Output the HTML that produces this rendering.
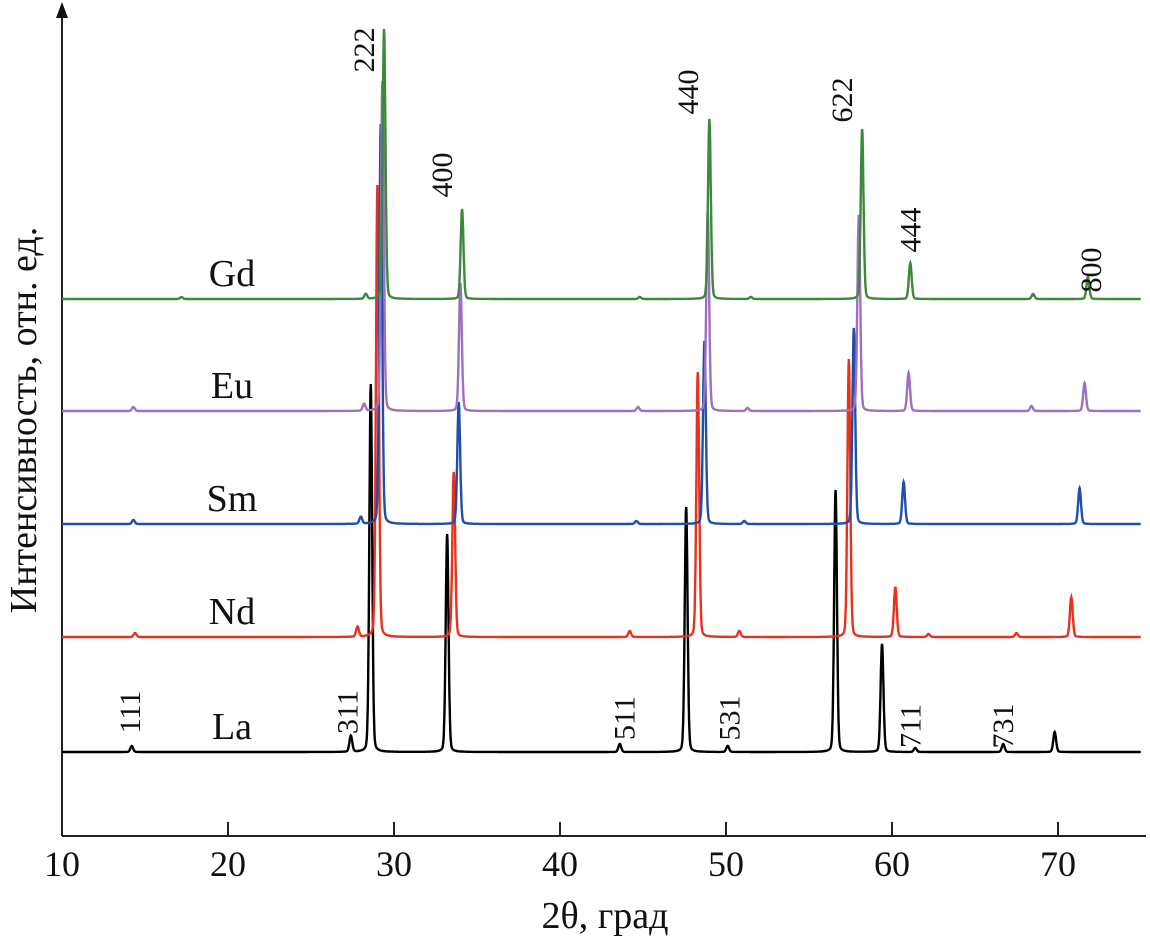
<!DOCTYPE html>
<html><head><meta charset="utf-8"><style>
body{margin:0;background:#fff}
svg text{font-family:"Liberation Serif",serif;fill:#111}
</style></head><body>
<svg id="chart" width="1150" height="946" viewBox="0 0 1150 946" xmlns="http://www.w3.org/2000/svg">
<g id="axes"></g>
<g id="series"></g>
<g id="labels"></g>
</svg>
<script>
const xTicks=[10,20,30,40,50,60,70];
const sampleNames=["La","Nd","Sm","Eu","Gd"];
const sampleColors=["#000000","#e8321e","#1f4fa8","#a070c0","#3a8a3a"];
const baselines=[752,637,524,411,299];
const laPos=[14.2,27.4,28.6,33.2,43.6,47.6,50.1,56.6,59.4,61.4,66.7,69.8];
const laInt=[6,16,368,218,8,245,6,262,108,4,8,20];
const ndPos=[14.4,27.8,29.0,33.6,44.2,48.3,50.8,57.4,60.2,62.2,67.5,70.8];
const ndInt=[4,10,452,165,6,265,6,278,50,3,4,40];
const smPos=[14.3,28.0,29.2,33.9,44.6,48.7,51.1,57.7,60.7,71.3];
const smInt=[4,7,400,122,3,183,3,196,42,36];
const euPos=[14.3,28.2,29.3,34.0,44.7,48.9,51.3,58.0,61.0,68.4,71.6];
const euInt=[4,7,330,128,4,200,3,196,38,5,28];
const gdPos=[17.2,28.3,29.4,34.1,44.8,49.0,51.5,58.2,61.1,68.5,71.8];
const gdInt=[2,5,270,90,2,180,2,170,36,5,22];
const peakPos=[laPos,ndPos,smPos,euPos,gdPos];
const peakInt=[laInt,ndInt,smInt,euInt,gdInt];
const topLabels=["222","400","440","622","444","800"];
const topLabelX=[28.2,32.9,47.7,57.0,61.1,72.0];
const topLabelY=[50,175,92,100,230,270];
const botLabels=["111","311","511","531","711","731"];
const botLabelX=[14.1,27.2,43.9,50.2,61.1,66.7];
const botLabelY=[712,712,718,718,726,726];

const X=v=>62+(v-10)*16.6;
const NS="http://www.w3.org/2000/svg";
function mk(t,a,p){const e=document.createElementNS(NS,t);for(const k in a)e.setAttribute(k,a[k]);p.appendChild(e);return e;}
const ax=document.getElementById('axes');
let l=mk('path',{d:"M62,836 H1146 M62,836 V12",stroke:"#222","stroke-width":2,fill:"none"},ax);


let ar=mk('path',{d:"M62,2 L56,18 L68,18 Z",fill:"#111"},ax);


xTicks.forEach(t=>{
 let tk=mk('line',{x1:X(t),x2:X(t),y1:836,y2:822,stroke:"#222","stroke-width":2},ax);
 
 
 let tx=mk('text',{x:X(t),y:876,"text-anchor":"middle","font-size":36},ax);tx.textContent=t;
 
 
});
let xt=mk('text',{x:605,y:928,"text-anchor":"middle","font-size":38},ax);xt.textContent="2θ, град";


let yt=mk('text',{x:0,y:0,"text-anchor":"middle","font-size":38,transform:"translate(36,420) rotate(-90)"},ax);yt.textContent="Интенсивность, отн. ед.";



const sg=document.getElementById('series');
const w=0.1;
sampleNames.forEach((n,i)=>{
 let d="";
 for(let xv=10;xv<=75;xv+=0.02){
  let v=0;
  peakPos[i].forEach((p,j)=>{const z=(xv-p)/w;v+=peakInt[i][j]*(0.85*Math.exp(-0.693*z*z)+0.15/(1+z*z));});
  d+=(d?"L":"M")+X(xv).toFixed(1)+","+(baselines[i]-v).toFixed(1);
 }
 let p=mk('path',{d:d,stroke:sampleColors[i],"stroke-width":2.4,fill:"none"},sg);
 
 
 let tx=mk('text',{x:232,y:baselines[i]-13,"text-anchor":"middle","font-size":38},sg);tx.textContent=n;
 
 
});
const lg=document.getElementById('labels');
function rl(txt,xv,yc,name){
 let t=mk('text',{x:0,y:0,"text-anchor":"middle","font-size":30,transform:`translate(${X(xv)+10},${yc}) rotate(-90)`},lg);t.textContent=txt;
 
 
}
topLabels.forEach((s,i)=>rl(s,topLabelX[i],topLabelY[i],'peak-label-'+s));
botLabels.forEach((s,i)=>rl(s,botLabelX[i],botLabelY[i],'peak-label-'+s));
</script>
</body></html>
